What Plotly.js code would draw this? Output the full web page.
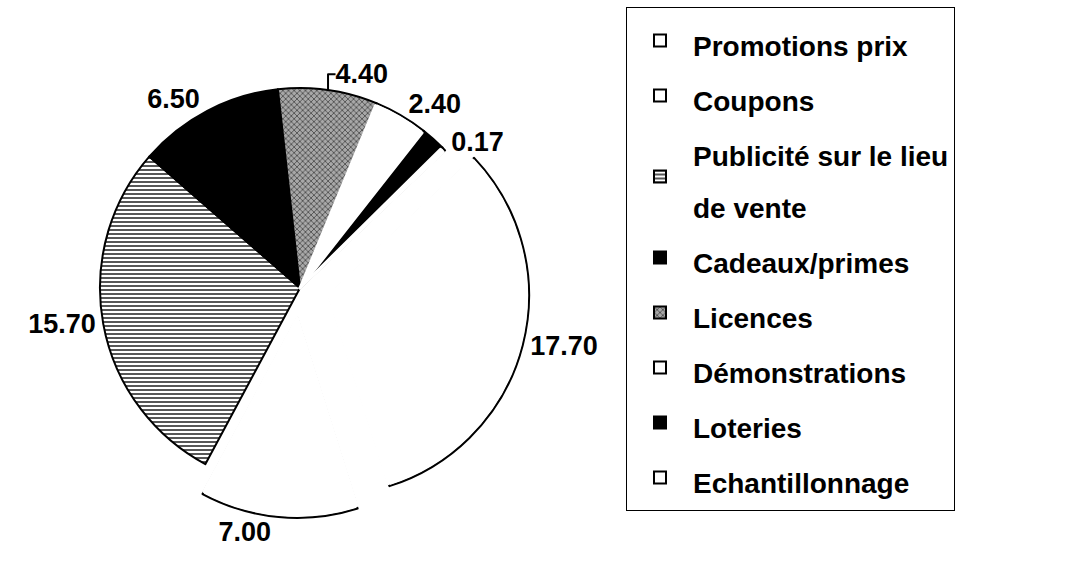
<!DOCTYPE html>
<html><head><meta charset="utf-8">
<script src="https://cdn.plot.ly/plotly-3.0.1.min.js"></script>
<style>html,body{margin:0;padding:0;background:#fff}#chart{width:1065px;height:577px}</style>
</head><body><div id="chart"></div>
<script>
// Data (clockwise order, starting at the large white slice)
const categories = ["Promotions prix", "Coupons", "Publicité sur le lieu de vente", "Cadeaux/primes",
                    "Licences", "Démonstrations", "Loteries", "Echantillonnage"];
const values = [17.70, 7.00, 15.70, 6.50, 4.40, 2.40, 1.10, 0.17];
const valueShown = [true, true, true, true, true, true, false, true];

// Styles (kept apart from the data)
const sliceColors = ["#ffffff", "#ffffff", "#ffffff", "#000000", "#a8a8a8", "#ffffff", "#000000", "#ffffff"];
const patternShapes = ["", "", "-", "", "x", "", "", ""];
const patternFg = ["#000", "#000", "#2a2a2a", "#000", "#505050", "#000", "#000", "#000"];
const plainWhite = [true, true, false, false, false, true, false, true];
const pulls = [0.15, 0.15, 0, 0, 0, 0, 0, 0];

const W = 1065, H = 577;
const FONT = 'Arial, "Liberation Sans", Helvetica, sans-serif';
const CX = 300, CY = 288, R = 200;

function domainFor(r) {
  const half = r * (1 + Math.max(...pulls));
  return {x: [(CX - half) / W, (CX + half) / W], y: [1 - (CY + half) / H, 1 - (CY - half) / H]};
}

const legendNames = categories.map(c =>
  '<span style="font-size:28px">' + c.replace(' le lieu ', ' le lieu<br>') + '</span>');

const common = {
  type: 'pie', labels: legendNames, values: values, sort: false,
  direction: 'clockwise', rotation: 46.5, pull: pulls, hoverinfo: 'none'
};

const main = Object.assign({}, common, {
  marker: {
    colors: sliceColors,
    line: {color: '#000', width: 2},
    pattern: {shape: patternShapes, fgcolor: patternFg, bgcolor: sliceColors, size: 4, solidity: 0.4}
  },
  texttemplate: valueShown.map(s => s ? '%{value:.2f}' : ''),
  textposition: 'outside',
  outsidetextfont: {family: FONT, size: 27, weight: 'bold', color: '#000'},
  domain: domainFor(R)
});

// white slices in the print have no radial edges: cover them, keep the outer arc
const cover = Object.assign({}, common, {
  marker: {
    colors: plainWhite.map(w => w ? '#ffffff' : 'rgba(0,0,0,0)'),
    line: {color: plainWhite.map(w => w ? '#ffffff' : 'rgba(0,0,0,0)'), width: 3}
  },
  textinfo: 'none',
  showlegend: false,
  domain: domainFor(R - 2.6)
});

const layout = {
  width: W, height: H,
  margin: {l: 0, r: 0, t: 0, b: 0},
  paper_bgcolor: '#fff',
  showlegend: true,
  legend: {
    x: 626 / W, xanchor: 'left', y: 1 - 7 / H, yanchor: 'top',
    bordercolor: '#000', borderwidth: 1, bgcolor: '#fff',
    font: {family: FONT, size: 40, weight: 'bold', color: '#000'},
    itemwidth: 56, traceorder: 'normal'
  }
};

Plotly.newPlot('chart', [main, cover], layout, {staticPlot: true, displayModeBar: false});
</script>
</body></html>
